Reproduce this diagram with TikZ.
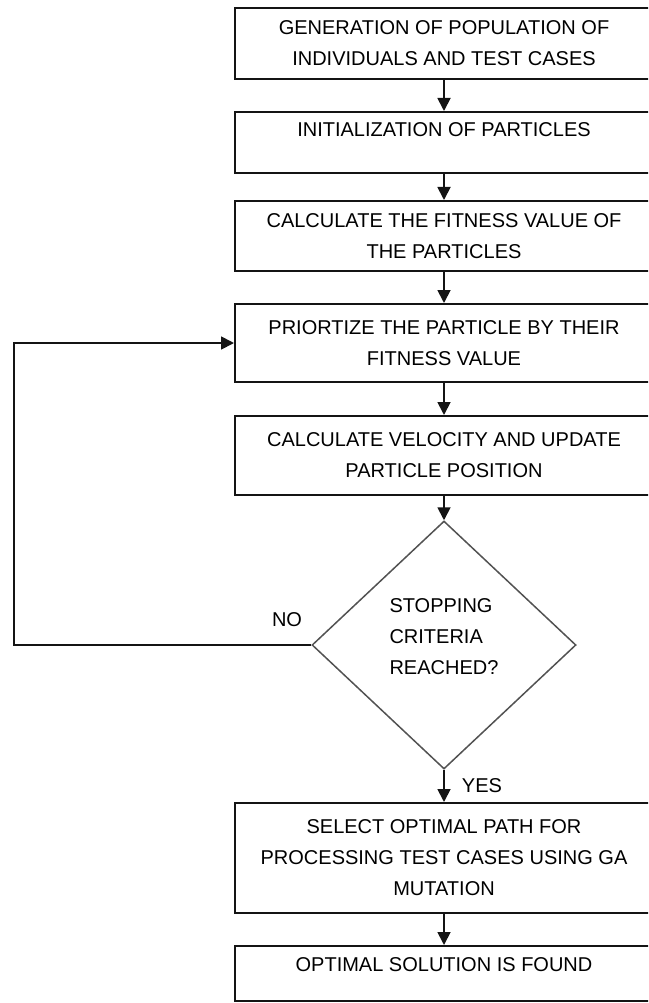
\documentclass[tikz,border=0pt]{standalone}
\usepackage{fontspec}
\setmainfont{Liberation Sans}
\usepackage{tikz}
\usetikzlibrary{shapes.geometric,arrows.meta}
\definecolor{ink}{gray}{0.08}
\definecolor{edge}{gray}{0.32}
\newcommand{\fStep}{\fontsize{20}{31}\selectfont}

\begin{document}
\begin{tikzpicture}[x=1pt,y=-1pt,
  box/.style={draw=ink,line width=2pt,minimum width=418pt,inner sep=0pt,align=center,font=\fStep},
  flow/.style={-{Triangle[width=13pt,length=13pt]},line width=1.8pt,draw=ink}]
  \useasboundingbox (0,0) rectangle (648,1003);
  \clip (0,0) rectangle (648,1003);
  \node[box,minimum height=71pt] (gen) at (444,43.5) {GENERATION OF POPULATION OF\\ INDIVIDUALS AND TEST CASES};
  \node[box,minimum height=61pt] (init) at (444,142.5) {INITIALIZATION OF PARTICLES\\[-6pt] \mbox{}};
  \node[box,minimum height=70pt] (fit) at (444,236) {CALCULATE THE FITNESS VALUE OF\\ THE PARTICLES};
  \node[box,minimum height=78pt] (prio) at (444,343) {PRIORTIZE THE PARTICLE BY THEIR\\ FITNESS VALUE};
  \node[box,minimum height=79pt] (vel) at (444,455.5) {CALCULATE VELOCITY AND UPDATE\\ PARTICLE POSITION};
  \node[diamond,draw=edge,line width=1.5pt,minimum width=264pt,minimum height=248pt,inner sep=0pt,align=left,font=\fStep] (stop) at (444,645) {STOPPING\\ CRITERIA\\ REACHED?\\[-14pt] \mbox{}};
  \node[box,minimum height=110pt] (sel) at (444,858) {SELECT OPTIMAL PATH FOR\\ PROCESSING TEST CASES USING GA\\ MUTATION};
  \node[box,minimum height=55pt] (opt) at (444,973.5) {OPTIMAL SOLUTION IS FOUND\\[-14pt] \mbox{}};
  \node[font=\fStep] (no) at (287,620) {NO};
  \node[font=\fStep] (yes) at (482,786) {YES};
  \coordinate (lb) at (14,645);
  \coordinate (lt) at (14,343);
  \draw[flow] (gen) -- (init);
  \draw[flow] (init) -- (fit);
  \draw[flow] (fit) -- (prio);
  \draw[flow] (prio) -- (vel);
  \draw[flow] (vel) -- (stop.north);
  \draw[flow] (stop.south) -- (sel);
  \draw[flow] (sel) -- (opt);
  \draw[flow] (stop.west) -- (lb) -- (lt) -- (prio.west);
\end{tikzpicture}
\end{document}
